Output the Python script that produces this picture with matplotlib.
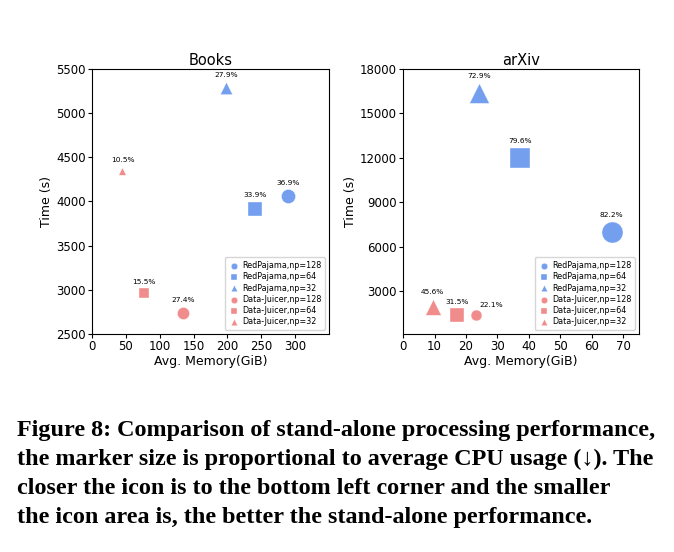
import matplotlib
matplotlib.use("Agg")
import matplotlib.pyplot as plt

# ------------------------------------------------------------------------------------------------------------------
labels = ["RedPajama,np=128", "RedPajama,np=64", "RedPajama,np=32",
          "Data-Juicer,np=128", "Data-Juicer,np=64", "Data-Juicer,np=32"]
markers = ["o", "s", "^", "o", "s", "^"]
colors = ["cornflowerblue"] * 3 + ["lightcoral"] * 3

books_mem = [290, 241, 198, 134, 77, 45]
books_time = [4060, 3920, 5290, 2740, 2960, 4350]
books_cpu = [36.9, 33.9, 27.9, 27.4, 15.5, 10.5]

arxiv_mem = [66.3, 37.3, 24.2, 23.2, 17.3, 9.4]
arxiv_time = [7000, 11980, 16400, 1350, 1400, 1930]
arxiv_cpu = [82.2, 79.6, 72.9, 22.1, 31.5, 45.6]

caption = [
    "Figure 8: Comparison of stand-alone processing performance,",
    "the marker size is proportional to average CPU usage (\u2193). The",
    "closer the icon is to the bottom left corner and the smaller",
    "the icon area is, the better the stand-alone performance.",
]

size_scale = 2.8

# ------------------------------------------------------------------------------------------------------------------
fig = plt.figure(figsize=(6.74, 5.52), dpi=100)
ax1 = fig.add_axes([0.1365, 0.395, 0.3516, 0.480])
ax2 = fig.add_axes([0.598, 0.395, 0.350, 0.480])


def draw(ax, mem, tm, cpu, title, text_shift):
    for i in range(len(labels)):
        s = cpu[i] * size_scale
        ax.scatter(mem[i], tm[i], s=s, marker=markers[i], color=colors[i], alpha=0.9,
                   label=labels[i], edgecolors="white", linewidths=0.3)
        dx, dy = text_shift.get(i, (0, 0))
        ax.annotate(f"{cpu[i]}%", (mem[i], tm[i]),
                    xytext=(dx, s ** 0.5 / 2 + 2.5 + dy), textcoords="offset points",
                    ha="center", va="bottom", fontsize=5.3)
    ax.set_title(title, fontsize=10.5, pad=3)
    ax.set_xlabel("Avg. Memory(GiB)", fontsize=9, labelpad=1)
    ax.set_ylabel("Time (s)", fontsize=9, labelpad=2)
    ax.tick_params(labelsize=8.5, length=3, pad=1.5)
    leg = ax.legend(loc="lower right", fontsize=5.8, handletextpad=0.2,
                    borderpad=0.45, labelspacing=0.28, handlelength=1.5)
    for h in leg.legend_handles:
        h.set_sizes([22])


draw(ax1, books_mem, books_time, books_cpu, "Books", {})
ax1.set_xlim(0, 350)
ax1.set_ylim(2500, 5500)
ax1.set_xticks(range(0, 301, 50))
ax1.set_yticks(range(2500, 5501, 500))

draw(ax2, arxiv_mem, arxiv_time, arxiv_cpu, "arXiv", {3: (11, -1)})
ax2.set_xlim(0, 75)
ax2.set_ylim(90, 18000)
ax2.set_xticks(range(0, 71, 10))
ax2.set_yticks(range(3000, 18001, 3000))

for k, line in enumerate(caption):
    fig.text(17 / 674, 1 - (436 + 29 * k) / 552, line, ha="left", va="baseline",
             fontsize=17.4, fontweight="bold",
             family=["Liberation Serif", "DejaVu Serif"])

fig.savefig("out.png", dpi=100)
